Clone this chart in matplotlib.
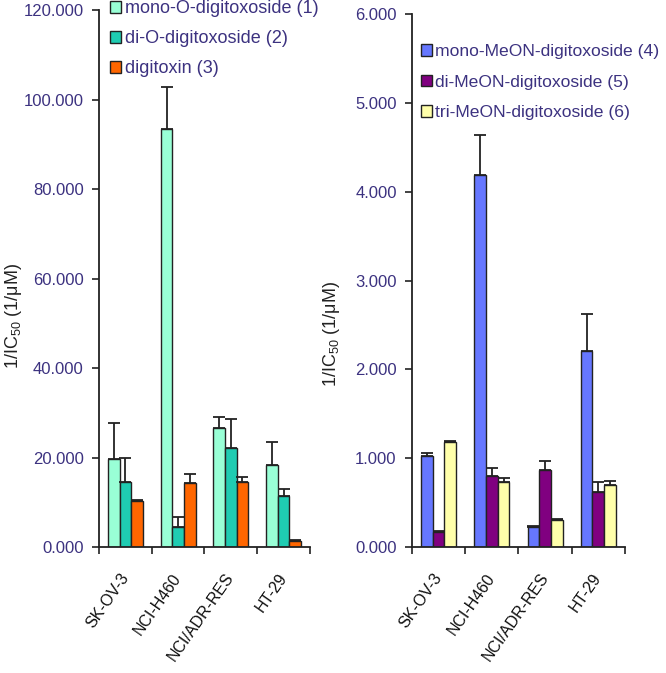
import numpy as np
import matplotlib.pyplot as plt
from matplotlib.ticker import FormatStrFormatter, FixedLocator

plt.rcParams['font.family'] = ['Liberation Sans', 'DejaVu Sans']
plt.rcParams['mathtext.default'] = 'regular'

# Dados
cells = ["SK-OV-3", "NCI-H460", "NCI/ADR-RES", "HT-29"]

# painel esquerdo
mono_o = [19.7, 93.4, 26.6, 18.4]
mono_o_err = [8.0, 9.4, 2.4, 5.1]
di_o = [14.5, 4.5, 22.1, 11.4]
di_o_err = [5.4, 2.3, 6.6, 1.5]
digitoxin = [10.3, 14.2, 14.5, 1.4]
digitoxin_err = [0.2, 2.1, 1.2, 0.1]

# painel direito
mono_meon = [1.03, 4.19, 0.23, 2.21]
mono_meon_err = [0.03, 0.45, 0.01, 0.41]
di_meon = [0.17, 0.80, 0.87, 0.62]
di_meon_err = [0.01, 0.09, 0.10, 0.11]
tri_meon = [1.18, 0.73, 0.30, 0.70]
tri_meon_err = [0.01, 0.05, 0.01, 0.04]

left_series = [
    ("mono-O-digitoxoside (1)", mono_o, mono_o_err, "#99FFD6"),
    ("di-O-digitoxoside (2)", di_o, di_o_err, "#1FCCB2"),
    ("digitoxin (3)", digitoxin, digitoxin_err, "#FF6600"),
]
right_series = [
    ("mono-MeON-digitoxoside (4)", mono_meon, mono_meon_err, "#6677FF"),
    ("di-MeON-digitoxoside (5)", di_meon, di_meon_err, "#800080"),
    ("tri-MeON-digitoxoside (6)", tri_meon, tri_meon_err, "#FFFFAA"),
]

tick_color = "#3c3280"
edge = "#222222"
width = 0.22


def draw_panel(ax, series, ymax, leg_anchor, leg_size, leg_space):
    x = np.arange(len(cells))
    for k, (label, vals, err, color) in enumerate(series):
        pos = x + (k - 1) * width
        ax.bar(pos, vals, width, color=color, edgecolor=edge, linewidth=1.0,
               label=label, zorder=2)
        ax.errorbar(pos, vals, yerr=[np.zeros(len(vals)), err], fmt="none",
                    ecolor=edge, elinewidth=1.3, capsize=4, capthick=1.3,
                    zorder=3)
    ax.set_xlim(-0.5, len(cells) - 0.5)
    ax.set_ylim(0, ymax)
    ax.set_yticks(np.linspace(0, ymax, 7))
    ax.yaxis.set_major_formatter(FormatStrFormatter("%.3f"))
    ax.set_xticks(x)
    ax.set_xticklabels(cells, rotation=55, ha="right", va="center",
                       rotation_mode="anchor", fontsize=11.5, color="#111111")
    ax.xaxis.set_minor_locator(FixedLocator(np.arange(len(cells) + 1) - 0.5))
    ax.tick_params(axis="x", which="major", length=0, pad=20)
    ax.tick_params(axis="x", which="minor", length=5, width=1.2, color=edge)
    ax.tick_params(axis="y", length=5, width=1.2, color=edge,
                   labelcolor=tick_color, labelsize=12, pad=6)
    for s in ["top", "right"]:
        ax.spines[s].set_visible(False)
    for s in ["left", "bottom"]:
        ax.spines[s].set_color(edge)
        ax.spines[s].set_linewidth(1.3)
    ax.set_ylabel("1/IC$_{50}$ (1/\u03bcM)", fontsize=13, color="#222222")
    leg = ax.legend(loc="upper left", bbox_to_anchor=leg_anchor, frameon=False,
                    fontsize=leg_size, handlelength=0.65, handleheight=0.65,
                    handletextpad=0.2, labelspacing=leg_space, borderpad=0,
                    borderaxespad=0)
    for t in leg.get_texts():
        t.set_color(tick_color)
    return ax


fig = plt.figure(figsize=(6.66, 6.73), dpi=100)
ax1 = fig.add_axes([0.1486, 0.1872, 0.3169, 0.7979])
ax2 = fig.add_axes([0.6186, 0.1872, 0.3198, 0.7920])

draw_panel(ax1, left_series, 120, (0.05, 1.018), 13, 0.72)
draw_panel(ax2, right_series, 6, (0.04, 0.944), 12.6, 0.9)

ax1.yaxis.set_label_coords(-0.355, 0.43)
ax2.yaxis.set_label_coords(-0.33, 0.40)

fig.savefig("out.png", dpi=100)
